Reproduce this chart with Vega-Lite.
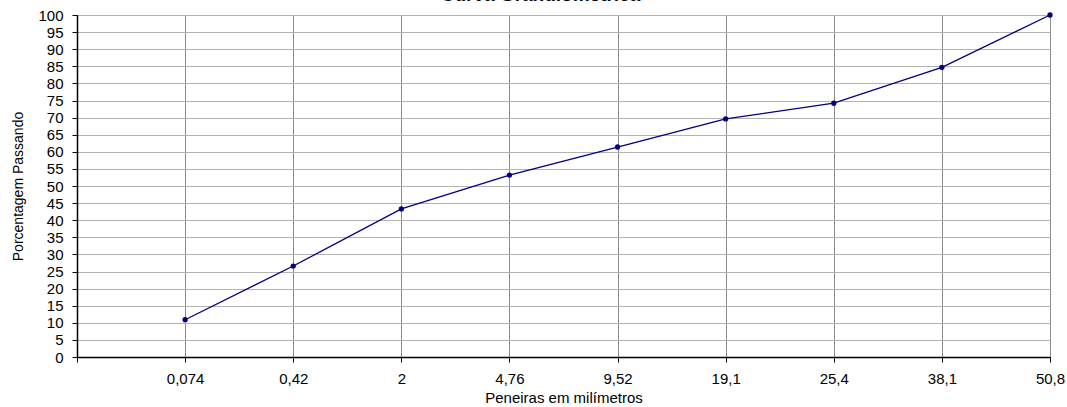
{
  "$schema": "https://vega.github.io/schema/vega-lite/v6.json",
  "autosize": "none",
  "width": 973,
  "height": 342,
  "padding": {"left": 77, "top": 15, "right": 17, "bottom": 50},
  "background": "white",
  "title": {
    "text": "Curva Granulométrica",
    "font": "Liberation Sans",
    "fontSize": 19,
    "fontWeight": "bold",
    "color": "black",
    "anchor": "middle",
    "baseline": "alphabetic",
    "offset": 0,
    "dy": 12,
    "dx": -23
  },
  "config": {
    "view": {"stroke": "#333333", "strokeWidth": 1},
    "font": "Liberation Sans"
  },
  "data": {
    "values": [
      {"peneira": "0,074", "passando": 10.9},
      {"peneira": "0,42", "passando": 26.6},
      {"peneira": "2", "passando": 43.3},
      {"peneira": "4,76", "passando": 53.2},
      {"peneira": "9,52", "passando": 61.4},
      {"peneira": "19,1", "passando": 69.6},
      {"peneira": "25,4", "passando": 74.2},
      {"peneira": "38,1", "passando": 84.7},
      {"peneira": "50,8", "passando": 100}
    ]
  },
  "encoding": {
    "x": {
      "field": "peneira",
      "type": "ordinal",
      "scale": {
        "type": "point",
        "padding": 0,
        "domain": ["", "0,074", "0,42", "2", "4,76", "9,52", "19,1", "25,4", "38,1", "50,8"]
      },
      "sort": null,
      "axis": {
        "title": "Peneiras em milímetros",
        "titleFont": "Liberation Sans",
        "titleFontSize": 15,
        "titleFontWeight": "normal",
        "titleColor": "black",
        "titlePadding": 4,
        "labelAngle": 0,
        "labelFont": "Liberation Sans",
        "labelFontSize": 15,
        "labelColor": "black",
        "labelPadding": 9,
        "tickColor": "black",
        "tickSize": 5,
        "domainColor": "black",
        "domainWidth": 1.5,
        "grid": true,
        "gridColor": "#8c8c8c",
        "gridWidth": 1
      }
    },
    "y": {
      "field": "passando",
      "type": "quantitative",
      "scale": {"domain": [0, 100], "nice": false},
      "axis": {
        "title": "Porcentagem Passando",
        "titleFont": "Liberation Sans",
        "titleFontSize": 14,
        "titleFontWeight": "normal",
        "titleColor": "black",
        "titlePadding": 12,
        "values": [0,5,10,15,20,25,30,35,40,45,50,55,60,65,70,75,80,85,90,95,100],
        "labelFont": "Liberation Sans",
        "labelFontSize": 15,
        "labelColor": "black",
        "labelPadding": 9,
        "tickColor": "black",
        "tickSize": 5,
        "domainColor": "black",
        "domainWidth": 1.5,
        "grid": true,
        "gridColor": "#b3b3b3",
        "gridWidth": 1
      }
    }
  },
  "layer": [
    {"mark": {"type": "line", "color": "#000080", "strokeWidth": 1.3}},
    {"mark": {"type": "point", "filled": true, "color": "#000080", "size": 28, "opacity": 1}}
  ]
}
